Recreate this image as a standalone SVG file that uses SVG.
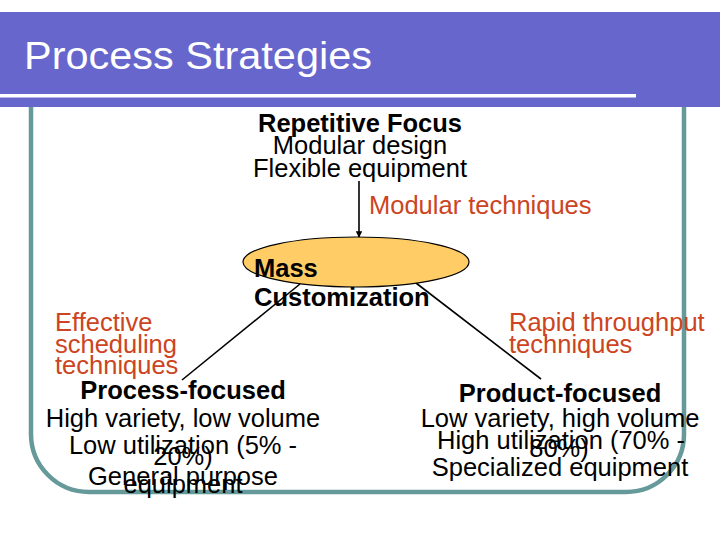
<svg xmlns="http://www.w3.org/2000/svg" width="720" height="540" viewBox="0 0 720 540">
<style>
text{font-family:"Liberation Sans",Arial,sans-serif;font-size:25.5px;fill:#000}
.b{font-weight:bold}
.r{fill:#CC4422}
.c{text-anchor:middle}
.title{fill:#fff;font-size:38px}
.frame{fill:none;stroke:#669999;stroke-width:4.5}
.conn{stroke:#000;stroke-width:1.6;fill:none}
</style>
<defs>
<marker id="ah" viewBox="0 0 10 10" refX="9" refY="5" markerWidth="4" markerHeight="4" orient="auto">
<path d="M0,0 L10,5 L0,10 z" fill="#000"/>
</marker>
</defs>
<rect width="720" height="540" fill="#fff"/>
<path class="frame" d="M31,100 V434 A58,58 0 0 0 89,492 H626 A58,58 0 0 0 684,434 V100"/>
<g id="header">
<rect x="0" y="12" width="720" height="95" fill="#6666CC"/>
<rect x="0" y="94" width="636" height="3.5" fill="#fff"/>
<text class="title" x="24" y="69" textLength="348" lengthAdjust="spacingAndGlyphs">Process Strategies</text>
</g>
<g id="connectors">
<line class="conn" x1="359" y1="181" x2="359" y2="237" marker-end="url(#ah)"/>
<line class="conn" x1="300" y1="284" x2="182" y2="380"/>
<line class="conn" x1="416" y1="283" x2="541" y2="379"/>
</g>
<g id="repetitive">
<text class="b c" x="360" y="132">Repetitive Focus</text>
<text class="c" x="360" y="154">Modular design</text>
<text class="c" x="360" y="177">Flexible equipment</text>
</g>
<g id="label-modular">
<text class="r" x="369" y="214">Modular techniques</text>
</g>
<g id="mass">
<ellipse cx="356" cy="262" rx="113" ry="25" fill="#FFCC66" stroke="#000" stroke-width="1.2"/>
<text class="b" x="254" y="277">Mass</text>
<text class="b" x="254" y="306">Customization</text>
</g>
<g id="label-scheduling">
<text class="r" x="55" y="331">Effective</text>
<text class="r" x="55" y="353">scheduling</text>
<text class="r" x="55" y="374">techniques</text>
</g>
<g id="label-rapid">
<text class="r" x="509" y="331">Rapid throughput</text>
<text class="r" x="509" y="353">techniques</text>
</g>
<g id="process-focused">
<text class="b c" x="183" y="399">Process-focused</text>
<text class="c" x="183" y="427">High variety, low volume</text>
<text class="c" x="183" y="454">Low utilization (5% -</text>
<text class="c" x="183" y="465">20%)</text>
<text class="c" x="183" y="485">General purpose</text>
<text class="c" x="183" y="493">equipment</text>
</g>
<g id="product-focused">
<text class="b c" x="560" y="402">Product-focused</text>
<text class="c" x="560" y="427">Low variety, high volume</text>
<text class="c" x="561" y="449">High utilization (70% -</text>
<text class="c" x="559" y="457">80%)</text>
<text class="c" x="560" y="476">Specialized equipment</text>
</g>
</svg>
